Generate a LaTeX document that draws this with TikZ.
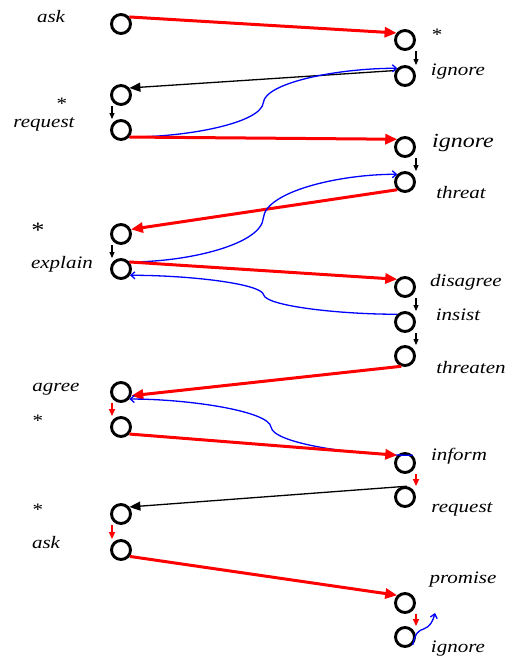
\documentclass[tikz,border=0pt]{standalone}
\usepackage{fontspec}
\newfontfamily\lblfont[FakeStretch=1.2]{Liberation Serif}
\usepackage{tikz}
\usetikzlibrary{arrows.meta, calc}
\usetikzlibrary{positioning}
\tikzset{
    state/.style = {
        circle,
        minimum size=19pt,
        inner sep=0pt,
        line width=2.9pt,
        draw,
    },
    lbl/.style = {
        font=\lblfont\fontsize{17.5}{20}\selectfont\itshape,
        text height=12pt,
        text depth=4pt,
        inner sep=0pt,
    },
    starlbl/.style = {
        font=\lblfont\fontsize{17.5}{20}\selectfont,
        text height=12pt,
        text depth=4pt,
        inner sep=0pt,
    },
}
\tikzstyle{redarrow} = [red, line width=3pt, -{Triangle[length=12pt,width=10pt]}]
\tikzstyle{redstep} = [red, line width=1.8pt, -{Triangle[length=7pt,width=6pt]}]
\tikzstyle{blackstep} = [black, line width=1.1pt, -{Triangle[length=6pt,width=5pt]}]
\tikzstyle{blackarrow} = [black, line width=1.3pt, -{Triangle[length=11pt,width=9pt]}]
\tikzstyle{bluearrow} = [blue, line width=1.3pt, -{Straight Barb[length=4pt,width=7pt]}]

\begin{document}
\begin{tikzpicture}[x=1pt, y=1pt, on grid]
        \useasboundingbox (-121,24) rectangle (387,-634);
        % left column
        \node (l1) [state] at (0,0) {};
        \node (l2) [state, below = 71pt of l1] {};
        \node (l3) [state, below = 35pt of l2] {};
        \node (l4) [state, below = 104pt of l3] {};
        \node (l5) [state, below = 35pt of l4] {};
        \node (l6) [state, below = 123pt of l5] {};
        \node (l7) [state, below = 35pt of l6] {};
        \node (l8) [state, below = 87pt of l7] {};
        \node (l9) [state, below = 36pt of l8] {};
        % right column
        \node (r1) [state, below right = 16pt and 284pt of l1] {};
        \node (r2) [state, below = 36pt of r1] {};
        \node (r3) [state, below = 71pt of r2] {};
        \node (r4) [state, below = 35pt of r3] {};
        \node (r5) [state, below = 105pt of r4] {};
        \node (r6) [state, below = 35pt of r5] {};
        \node (r7) [state, below = 34pt of r6] {};
        \node (r8) [state, below = 107pt of r7] {};
        \node (r9) [state, below = 34pt of r8] {};
        \node (r10) [state, below = 106pt of r9] {};
        \node (r11) [state, below = 34pt of r10] {};

        % labels
        \node (ask1) [lbl, above left = 5pt and 70pt of l1] {ask};
        \node (star1) [starlbl, above right = 3pt and 32pt of r1] {*};
        \node (ignore1) [lbl, above right = 4pt and 53pt of r2] {ignore};
        \node (star2) [starlbl, below left = 11pt and 59pt of l2] {*};
        \node (request1) [lbl, above left = 6pt and 77pt of l3] {request};
        \node (ignore2) [lbl, font=\lblfont\fontsize{20}{23}\selectfont\itshape,
            above right = 3.5pt and 58pt of r3] {ignore};
        \node (threat) [lbl, below right = 12pt and 56pt of r4] {threat};
        \node (star3) [starlbl, font=\lblfont\fontsize{22}{25}\selectfont,
            above left = 1pt and 83pt of l4] {*};
        \node (explain) [lbl, above left = 5pt and 59pt of l5] {explain};
        \node (disagree) [lbl, above right = 5pt and 61pt of r5] {disagree};
        \node (insist) [lbl, above right = 6pt and 53pt of r6] {insist};
        \node (threaten) [lbl, below right = 13pt and 66pt of r7] {threaten};
        \node (agree) [lbl, above left = 5pt and 65pt of l6] {agree};
        \node (star4) [starlbl, above left = 5pt and 83pt of l7] {*};
        \node (inform) [lbl, above right = 7pt and 54pt of r8] {inform};
        \node (star5) [starlbl, above left = 3pt and 83pt of l8] {*};
        \node (request2) [lbl, below right = 11pt and 57pt of r9] {request};
        \node (ask2) [lbl, above left = 6pt and 75pt of l9] {ask};
        \node (promise) [lbl, above right = 24pt and 58pt of r10] {promise};
        \node (ignore3) [lbl, below right = 11pt and 53pt of r11] {ignore};
        \coordinate [above right = 24pt and 30pt of r11] (wig);

        % transitions
        \draw [redarrow] (l1.40) -- (r1.140);
        \draw [blackstep] ([xshift=11pt]r1.south) -- ([xshift=11pt]r2.north);
        \draw [blackarrow] (r2.150) -- (l2.40);
        \draw [blackstep] ([xshift=-9pt]l2.south) -- ([xshift=-9pt]l3.north);
        \draw [bluearrow] (l3.-40) .. controls +(60,0) and +(-2,-20) .. ($(l3.-40)!.5!(r2.135)$)
            .. controls +(2,20) and +(-60,0) .. (r2.135);
        \draw [redarrow] (l3.-40) -- (r3.135);
        \draw [blackstep] ([xshift=11pt]r3.south) -- ([xshift=11pt]r4.north);
        \draw [redarrow] (r4.-135) -- (l4.25);
        \draw [bluearrow] (l5.40) .. controls +(60,0) and +(-2,-26) .. ($(l5.40)!.5!(r4.135)$)
            .. controls +(2,26) and +(-60,0) .. (r4.135);
        \draw [blackstep] ([xshift=-9pt]l4.south) -- ([xshift=-9pt]l5.north);
        \draw [redarrow] (l5.40) -- (r5.135);
        \draw [blackstep] ([xshift=11pt]r5.south) -- ([xshift=11pt]r6.north);
        \draw [blackstep] ([xshift=11pt]r6.south) -- ([xshift=11pt]r7.north);
        \draw [bluearrow] (r6.135) .. controls +(-60,0) and +(2,-11) .. ($(r6.135)!.5!(l5.-35)$)
            .. controls +(-2,11) and +(60,0) .. (l5.-35);
        \draw [redarrow] (r7.-110) -- (l6.-20);
        \draw [bluearrow] (r8.45) .. controls +(-60,0) and +(2,-16) .. ($(r8.45)!.5!(l6.-40)$)
            .. controls +(-2,16) and +(60,0) .. (l6.-40);
        \draw [redstep] ([xshift=-9pt]l6.south) -- ([xshift=-9pt]l7.north);
        \draw [redarrow] (l7.-40) -- (r8.135);
        \draw [redstep] ([xshift=11pt]r8.south) -- ([xshift=11pt]r9.north);
        \draw [blackarrow] (r9.80) -- (l8.40);
        \draw [redstep] ([xshift=-9pt]l8.south) -- ([xshift=-9pt]l9.north);
        \draw [redarrow] (l9.-36) -- (r10.135);
        \draw [redstep] ([xshift=11pt]r10.south) -- ([xshift=11pt]r11.north);
        \draw [bluearrow] (r11.-45) .. controls +(3,12) and +(-6,-2) .. ($(r11.-45)!.5!(wig)$)
            .. controls +(6,2) and +(-2,-8) .. (wig);

    \end{tikzpicture}
\end{document}
